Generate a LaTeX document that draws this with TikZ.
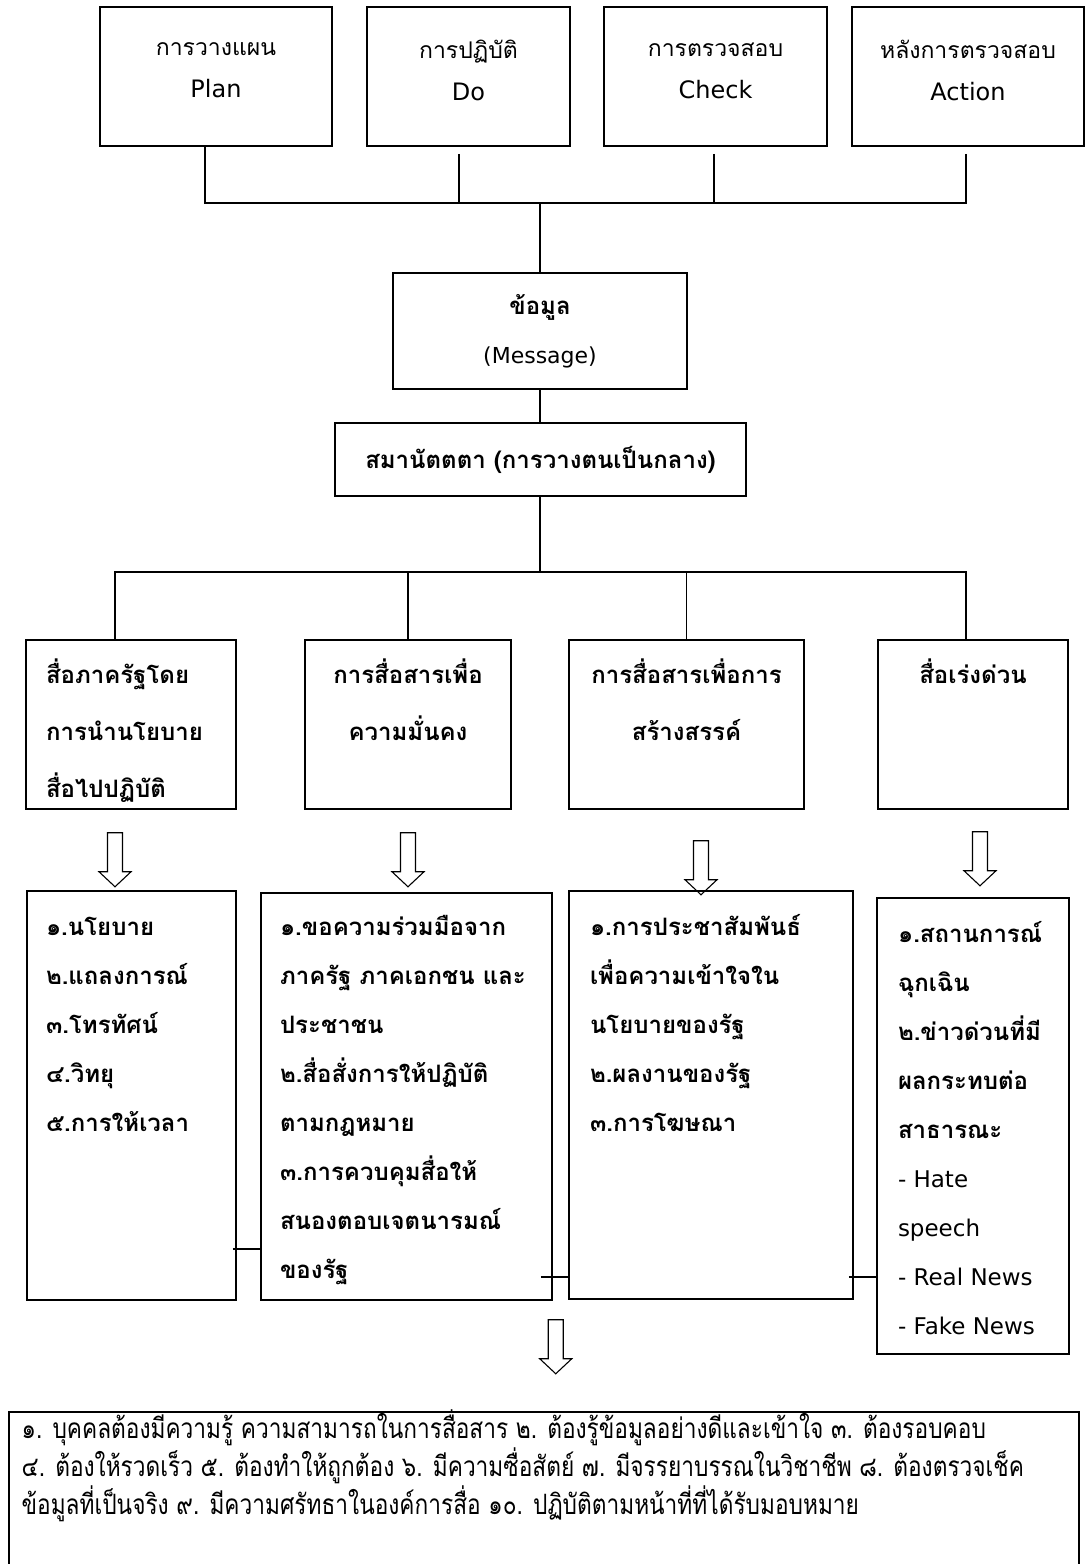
\documentclass[tikz,border=0pt]{standalone}
\usepackage{fontspec}
\setmainfont[Script=Thai]{Loma}
\newfontfamily\narrowthai[Script=Thai,FakeStretch=0.81]{Loma}
\newfontfamily\latinsans{DejaVu Sans}
\newcommand\lead{\rule{0pt}{24pt}}
\begin{document}
\begin{tikzpicture}[x=1pt,y=-1pt,line width=1.5pt,
  box/.style={draw,inner sep=0pt},
  topbox/.style={box,minimum height=139,align=center,font=\fontsize{23}{42}\selectfont},
  boldbox/.style={box,align=center,font=\bfseries\fontsize{24}{49}\selectfont},
  cattxt/.style={inner sep=0pt,font=\bfseries\fontsize{24}{57}\selectfont},
  listtxt/.style={inner sep=0pt,anchor=north west,align=left,font=\bfseries\fontsize{24}{49}\selectfont},
  hollow/.pic={\draw[line width=1.1pt,fill=white] (-7.5,0)--(-7.5,39)--(-16,39)--(0,54)--(16,39)--(7.5,39)--(7.5,0)--cycle;}]
\useasboundingbox (0,0) rectangle (1085,1564);

% PDCA row
\foreach \nm/\cx/\bw/\thaitxt/\engtxt in {plan/216/232/การวางแผน/Plan,do/468.5/203/การปฏิบัติ/Do,check/715.5/223/การตรวจสอบ/Check,act/968/232/หลังการตรวจสอบ/Action}
  \node[topbox,minimum width=\bw] (\nm) at (\cx,76.5) {\thaitxt\\\latinsans\fontsize{24}{42}\selectfont\engtxt\rule[-12pt]{0pt}{0pt}};
\coordinate (bus1) at (540,203);
\draw ([xshift=-11]plan.south) |- (bus1);
\draw[shorten <=7pt] ([xshift=-2]act.south) |- (bus1);
\draw[shorten <=7pt] ([xshift=-9.5]do.south) -- ([xshift=-9.5]do.south |- bus1);
\draw[shorten <=7pt] ([xshift=-1.5]check.south) -- ([xshift=-1.5]check.south |- bus1);

% message and neutrality
\node[boldbox,minimum width=294,minimum height=116] (msg) at (540,331) {ข้อมูล\\\mdseries\latinsans\fontsize{22}{49}\selectfont(Message)};
\node[boldbox,minimum width=411,minimum height=73] (neutral) at (540.5,459.5) {สมานัตตตา (การวางตนเป็นกลาง)};
\draw (bus1) -- (msg.north);
\draw (msg.south) -- (msg.south |- neutral.north);
\coordinate (bus2) at (540,572);
\draw (neutral.south -| bus2) -- (bus2);

% four kinds of media
\foreach \nm/\cx/\bw in {catA/131/210,catB/408/206,catC/686.5/235,catD/973/190}
  \node[box,minimum width=\bw,minimum height=169] (\nm) at (\cx,724.5) {};
\node[cattxt,anchor=north west,align=left] (catAt) at ([xshift=20,yshift=-19]catA.north west) {\lead สื่อภาครัฐโดย\\การนำนโยบาย\\สื่อไปปฏิบัติ};
\node[cattxt,anchor=north,align=center] (catBt) at ([yshift=-19]catB.north) {\lead การสื่อสารเพื่อ\\ความมั่นคง};
\node[cattxt,anchor=north,align=center] (catCt) at ([yshift=-19]catC.north) {\lead การสื่อสารเพื่อการ\\สร้างสรรค์};
\node[cattxt,anchor=north,align=center] (catDt) at ([yshift=-19]catD.north) {\lead สื่อเร่งด่วน};
\draw ([xshift=-16]catA.north) |- (bus2) -| ([xshift=-7]catD.north);
\draw (catB.north) -- (catB.north |- bus2);
\draw (catC.north) -- (catC.north |- bus2);

% details
\foreach \nm/\dx/\dy in {catA/-16/23,catB/0/23,catC/14.5/31,catD/7/22}
  \pic at ([xshift=\dx,yshift=-\dy]\nm.south) {hollow};
\foreach \nm/\cx/\cy/\bw/\bh in {listA/131.5/1095.5/209/409,listB/406.5/1096.5/291/407,listC/711/1095/284/408,listD/973/1126/192/456}
  \node[box,minimum width=\bw,minimum height=\bh] (\nm) at (\cx,\cy) {};
\node[listtxt] (listAt) at ([xshift=19,yshift=-20]listA.north west) {\lead ๑.นโยบาย\\๒.แถลงการณ์\\๓.โทรทัศน์\\๔.วิทยุ\\๕.การให้เวลา};
\node[listtxt] (listBt) at ([xshift=19,yshift=-18]listB.north west) {\lead ๑.ขอความร่วมมือจาก\\ภาครัฐ ภาคเอกชน และ\\ประชาชน\\๒.สื่อสั่งการให้ปฏิบัติ\\ตามกฎหมาย\\๓.การควบคุมสื่อให้\\สนองตอบเจตนารมณ์\\ของรัฐ};
\node[listtxt] (listCt) at ([xshift=21,yshift=-20]listC.north west) {\lead ๑.การประชาสัมพันธ์\\เพื่อความเข้าใจใน\\นโยบายของรัฐ\\๒.ผลงานของรัฐ\\๓.การโฆษณา};
\node[listtxt] (listDt) at ([xshift=21,yshift=-20.5]listD.north west) {\lead ๑.สถานการณ์\\ฉุกเฉิน\\๒.ข่าวด่วนที่มี\\ผลกระทบต่อ\\สาธารณะ\\\mdseries\latinsans\fontsize{23}{49}\selectfont - Hate\\\mdseries\latinsans\fontsize{23}{49}\selectfont speech\\\mdseries\latinsans\fontsize{23}{49}\selectfont - Real News\\\mdseries\latinsans\fontsize{23}{49}\selectfont - Fake News};
\draw ([xshift=-4,yshift=-153.5]listA.east) -- ([yshift=-153.5]listA.east -| listB.west);
\draw ([xshift=-12,yshift=-180.5]listB.east) -- ([yshift=-180.5]listB.east -| listC.west);
\draw ([xshift=-5,yshift=-182]listC.east) -- ([yshift=-182]listC.east -| listD.west);

% qualities of the communicator
\pic at ([xshift=3,yshift=-19]listB.south east) {hollow};
\node[box,line width=2.2pt,minimum width=1070,minimum height=160] (summ) at (544,1492) {};
\node[inner sep=0pt,anchor=north west,align=left,font=\narrowthai\fontsize{28}{38}\selectfont] (summt) at ([xshift=13,yshift=3]summ.north west) {\rule{0pt}{30pt}๑. บุคคลต้องมีความรู้ ความสามารถในการสื่อสาร ๒. ต้องรู้ข้อมูลอย่างดีและเข้าใจ ๓. ต้องรอบคอบ\\๔. ต้องให้รวดเร็ว ๕. ต้องทำให้ถูกต้อง ๖. มีความซื่อสัตย์ ๗. มีจรรยาบรรณในวิชาชีพ ๘. ต้องตรวจเช็ค\\ข้อมูลที่เป็นจริง ๙. มีความศรัทธาในองค์การสื่อ ๑๐. ปฏิบัติตามหน้าที่ที่ได้รับมอบหมาย};
\end{tikzpicture}
\end{document}
